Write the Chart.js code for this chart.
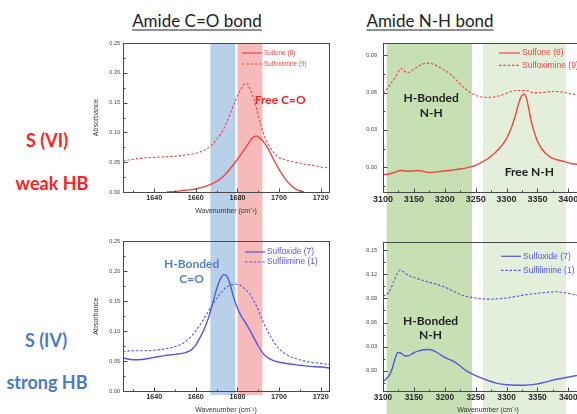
<!DOCTYPE html>
<html>
<head>
<meta charset="utf-8">
<script src="https://cdn.jsdelivr.net/npm/chart.js@4.4.1/dist/chart.umd.min.js"></script>
<style>
html,body{margin:0;padding:0;width:577px;height:414px;overflow:hidden;background:#fff;font-family:Lato,"Open Sans",sans-serif}
canvas{position:absolute}
.title{position:absolute;top:20px;font-size:17px;color:#222;text-decoration:underline;text-decoration-thickness:1px;text-underline-offset:3px;white-space:nowrap;transform:translate(-50%,-50%)}
.side{position:absolute;font-weight:bold;font-size:18px;white-space:nowrap;transform:translate(-50%,-50%)}
</style>
</head>
<body>
<div class="title" style="left:197px">Amide C=O bond</div>
<div class="title" style="left:430px">Amide N-H bond</div>
<div class="side" style="left:47px;top:140px;color:#ff2020">S (VI)</div>
<div class="side" style="left:52px;top:183px;color:#ff2020">weak HB</div>
<div class="side" style="left:46px;top:340px;color:#4a7bc8">S (IV)</div>
<div class="side" style="left:47px;top:382px;color:#4a7bc8">strong HB</div>

<canvas id="tl" width="250" height="200" style="left:85px;top:30px"></canvas>
<canvas id="tr" width="262" height="200" style="left:345px;top:30px"></canvas>
<canvas id="bl" width="250" height="184" style="left:85px;top:230px"></canvas>
<canvas id="br" width="262" height="184" style="left:345px;top:230px"></canvas>

<script>
// tick labels
const coXTicks = [1640, 1660, 1680, 1700, 1720];
const nhXTicks = [3100, 3150, 3200, 3250, 3300, 3350, 3400];
const coYTicks = [0, 0.05, 0.10, 0.15, 0.20, 0.25];
const nhTopYTicks = [0, 0.03, 0.06, 0.09];
const nhBotYTicks = [0, 0.03, 0.06, 0.09, 0.12, 0.15];

// highlighted wavenumber ranges
const hbCO = [1667, 1679];
const freeCO = [1680, 1692];
const hbNH = [3106, 3244];
const freeNH = [3262, 3396];

// C=O region, S(VI)
const sulfoneCOx = [1646,1650,1655,1660,1665,1668,1671,1674,1677,1680,1683,1685,1687,1689,1691,1693,1695,1697,1700,1703,1706,1709,1712];
const sulfoneCOy = [0.000,0.001,0.003,0.005,0.010,0.014,0.020,0.029,0.041,0.055,0.070,0.080,0.090,0.094,0.090,0.082,0.071,0.057,0.038,0.022,0.010,0.003,0.000];
const sulfoximineCOx = [1625,1630,1635,1640,1645,1650,1655,1660,1664,1667,1670,1673,1676,1679,1681,1683,1684.5,1686,1688,1690,1692,1694,1696,1698,1700,1704,1708,1712,1716,1720,1725];
const sulfoximineCOy = [0.052,0.055,0.057,0.058,0.059,0.060,0.062,0.065,0.070,0.077,0.088,0.103,0.127,0.153,0.168,0.180,0.182,0.173,0.155,0.128,0.104,0.085,0.073,0.064,0.058,0.053,0.050,0.047,0.045,0.042,0.040];

// C=O region, S(IV)
const sulfoxideCOx = [1625,1630,1635,1640,1645,1650,1655,1658,1660,1662,1664,1666,1668,1670,1672,1673.5,1675,1676.5,1678,1680,1682,1684,1686,1688,1690,1692,1694,1697,1700,1705,1710,1715,1720,1725];
const sulfoxideCOy = [0.055,0.052,0.053,0.056,0.059,0.061,0.064,0.069,0.077,0.089,0.103,0.121,0.145,0.170,0.188,0.194,0.191,0.178,0.158,0.138,0.124,0.113,0.101,0.088,0.075,0.064,0.057,0.051,0.048,0.045,0.043,0.041,0.040,0.038];
const sulfilimineCOx = [1625,1630,1635,1640,1645,1650,1654,1658,1662,1665,1668,1671,1674,1677,1680,1683,1686,1689,1692,1695,1698,1701,1705,1710,1715,1720,1725];
const sulfilimineCOy = [0.066,0.067,0.067,0.068,0.070,0.074,0.080,0.092,0.110,0.127,0.144,0.159,0.171,0.177,0.178,0.172,0.161,0.143,0.118,0.097,0.079,0.067,0.058,0.052,0.048,0.046,0.044];

// N-H region, S(VI)
const sulfoneNHx = [3100,3110,3120,3128,3135,3142,3150,3158,3166,3174,3185,3195,3210,3225,3240,3250,3260,3270,3280,3290,3300,3308,3314,3320,3324,3328,3332,3336,3340,3345,3350,3358,3366,3375,3390,3405,3420];
const sulfoneNHy = [-0.006,-0.0055,-0.004,-0.0027,-0.003,-0.0033,-0.003,-0.0027,-0.0035,-0.0043,-0.004,-0.0033,-0.0025,-0.0015,0.000,0.0015,0.004,0.007,0.011,0.016,0.023,0.032,0.041,0.052,0.057,0.059,0.056,0.047,0.037,0.028,0.021,0.014,0.010,0.007,0.005,0.003,0.002];
const sulfoximineNHx = [3100,3105,3110,3115,3120,3125,3129,3133,3137,3141,3146,3152,3158,3164,3170,3176,3182,3190,3200,3210,3220,3230,3240,3250,3260,3270,3285,3300,3315,3330,3345,3360,3375,3390,3405,3420];
const sulfoximineNHy = [0.0596,0.062,0.0655,0.069,0.0725,0.077,0.0795,0.0785,0.0765,0.0763,0.0775,0.0795,0.0815,0.083,0.0838,0.0838,0.0828,0.081,0.078,0.0745,0.0695,0.0645,0.0605,0.0578,0.0565,0.0563,0.057,0.0595,0.0618,0.0618,0.0598,0.0602,0.061,0.0605,0.059,0.0585];

// N-H region, S(IV)
const sulfoxideNHx = [3100,3105,3110,3115,3120,3124,3128,3132,3137,3142,3150,3158,3166,3175,3185,3195,3205,3215,3225,3235,3245,3255,3270,3285,3300,3315,3330,3345,3360,3375,3390,3405,3420];
const sulfoxideNHy = [-0.0137,-0.010,-0.006,0.003,0.016,0.0228,0.0225,0.020,0.0185,0.019,0.0225,0.0248,0.0262,0.0265,0.024,0.019,0.015,0.0115,0.006,0.000,-0.004,-0.0075,-0.012,-0.0155,-0.0172,-0.0178,-0.0178,-0.0168,-0.0145,-0.0115,-0.0092,-0.007,-0.005];
const sulfilimineNHx = [3100,3106,3112,3118,3123,3128,3133,3140,3150,3163,3175,3185,3200,3215,3230,3245,3260,3275,3290,3305,3320,3335,3350,3365,3380,3395,3410,3420];
const sulfilimineNHy = [0.0932,0.0945,0.101,0.112,0.1205,0.1252,0.123,0.119,0.116,0.1127,0.110,0.108,0.104,0.0985,0.0935,0.091,0.0895,0.089,0.0898,0.091,0.093,0.0949,0.0963,0.0975,0.0982,0.097,0.0945,0.093];

const RED = "#f04444", BLUE = "#5656e2";
Chart.defaults.font.family = "'Liberation Sans', Arial, sans-serif";

function pts(xs, ys){ return xs.map((x,i) => ({ x, y: ys[i] })); }

function minorOf(ticks, min, max){
  const step = ticks[1] - ticks[0], out = [];
  for(let i = -1; i < ticks.length; i++){
    const v = (i < 0 ? ticks[0] : ticks[i]) + (i < 0 ? -step/2 : step/2);
    if(v > min && v < max) out.push(v);
  }
  return out;
}

function makeChart(id, cfg){
  const decor = {
    id: "decor_" + id,
    beforeDraw(chart){
      const { ctx, chartArea: a, scales: { x } } = chart;
      const top = cfg.bandTop === "canvas" ? 0 : a.top;
      const bottom = cfg.bandBottom == null ? chart.height : a.bottom + cfg.bandBottom;
      ctx.save();
      cfg.bands.forEach(b => {
        const x0 = x.getPixelForValue(b.range[0]), x1 = x.getPixelForValue(b.range[1]);
        ctx.fillStyle = b.color;
        ctx.fillRect(x0, top, x1 - x0, bottom - top);
      });
      ctx.restore();
    },
    afterDraw(chart){
      const { ctx, chartArea: a, scales: { x, y } } = chart;
      ctx.save();
      // frame and inward ticks
      ctx.strokeStyle = "#4a4a4a"; ctx.lineWidth = 1;
      ctx.strokeRect(Math.round(a.left)+0.5, Math.round(a.top)+0.5, Math.round(a.right-a.left), Math.round(a.bottom-a.top));
      ctx.beginPath();
      const bx = Math.round(a.bottom)+0.5, lx = Math.round(a.left)+0.5;
      cfg.xTicks.forEach(v => { const p = Math.round(x.getPixelForValue(v))+0.5; ctx.moveTo(p, bx); ctx.lineTo(p, bx-4); });
      minorOf(cfg.xTicks, cfg.xMin, cfg.xMax).forEach(v => { const p = Math.round(x.getPixelForValue(v))+0.5; ctx.moveTo(p, bx); ctx.lineTo(p, bx-2); });
      cfg.yTicks.forEach(v => { const p = Math.round(y.getPixelForValue(v))+0.5; ctx.moveTo(lx, p); ctx.lineTo(lx+4, p); });
      minorOf(cfg.yTicks, cfg.yMin, cfg.yMax).forEach(v => { const p = Math.round(y.getPixelForValue(v))+0.5; ctx.moveTo(lx, p); ctx.lineTo(lx+2, p); });
      ctx.stroke();

      // legend inside the plot
      const L = cfg.legend;
      chart.data.datasets.forEach((ds, i) => {
        const yy = a.top + L.top + i * L.dy;
        const x0 = L.fromRight ? a.right - L.x : a.left + L.x;
        ctx.strokeStyle = ds.borderColor; ctx.lineWidth = 1.2;
        ctx.setLineDash(ds.borderDash || []);
        ctx.beginPath(); ctx.moveTo(x0, yy); ctx.lineTo(x0 + L.len, yy); ctx.stroke();
        ctx.setLineDash([]);
        ctx.fillStyle = ds.borderColor;
        ctx.font = L.size + "px 'Liberation Sans', Arial, sans-serif";
        ctx.textAlign = "left"; ctx.textBaseline = "middle";
        ctx.fillText(ds.label, x0 + L.len + 2, yy);
      });

      // annotations
      cfg.notes.forEach(n => {
        ctx.fillStyle = n.color;
        ctx.font = "bold 12px Lato, 'Open Sans', sans-serif";
        ctx.textAlign = n.align || "center"; ctx.textBaseline = "middle";
        ctx.fillText(n.text, x.getPixelForValue(n.x), y.getPixelForValue(n.y));
      });
      ctx.restore();
    }
  };

  return new Chart(document.getElementById(id), {
    type: "line",
    data: {
      datasets: cfg.series.map(s => ({
        label: s.label,
        data: pts(s.x, s.y),
        borderColor: s.color,
        borderWidth: s.dash ? 1.1 : 1.4,
        borderDash: s.dash ? [2.5, 1.8] : [],
        pointRadius: 0,
        cubicInterpolationMode: "monotone",
        fill: false
      }))
    },
    options: {
      responsive: false,
      animation: false,
      events: [],
      layout: { padding: cfg.pad },
      plugins: { legend: { display: false }, tooltip: { enabled: false } },
      scales: {
        x: {
          type: "linear", min: cfg.xMin, max: cfg.xMax,
          grid: { display: false, drawTicks: false, tickLength: 0 }, border: { display: false },
          afterFit: s => { s.height = cfg.xh; },
          afterBuildTicks: s => { s.ticks = cfg.xTicks.map(v => ({ value: v })); },
          ticks: { autoSkip: false, maxRotation: 0, padding: 2, color: "#2a2a2a",
                   font: { size: cfg.xFont, weight: "bold" }, callback: v => String(v) },
          title: { display: cfg.xTitle, text: "Wavenumber (cm⁻¹)", color: "#333",
                   font: { size: 7 }, padding: { top: 0, bottom: 0 } }
        },
        y: {
          min: cfg.yMin, max: cfg.yMax,
          grid: { display: false, drawTicks: false, tickLength: 0 }, border: { display: false },
          afterFit: s => { s.width = cfg.yw; },
          afterBuildTicks: s => { s.ticks = cfg.yTicks.map(v => ({ value: v })); },
          ticks: { autoSkip: false, padding: cfg.yPad, color: "#444",
                   font: { size: 5.5 }, callback: v => v.toFixed(2) },
          title: { display: cfg.yTitle, text: "Absorbance", color: "#333",
                   font: { size: 7 }, padding: { top: 0, bottom: 0 } }
        }
      }
    },
    plugins: [decor]
  });
}

makeChart("tl", {
  series: [
    { label: "Sulfone (8)", x: sulfoneCOx, y: sulfoneCOy, color: RED },
    { label: "Sulfoximine (9)", x: sulfoximineCOx, y: sulfoximineCOy, color: RED, dash: true }
  ],
  pad: { top: 13, right: 6, left: 7, bottom: 14.5 }, yw: 31, xh: 23.5,
  xMin: 1625, xMax: 1724, yMin: 0, yMax: 0.25, xTicks: coXTicks, yTicks: coYTicks,
  xFont: 7.2, yPad: 3, xTitle: true, yTitle: true,
  bands: [{ range: hbCO, color: "#b9d0e9" }, { range: freeCO, color: "#f7baba" }],
  bandTop: "area", bandBottom: null,
  legend: { fromRight: true, x: 87, top: 10, dy: 11, len: 20, size: 6.4 },
  notes: [{ text: "Free C=O", x: 1688.3, y: 0.154, color: "#ff2020", align: "left" }]
});

makeChart("bl", {
  series: [
    { label: "Sulfoxide (7)", x: sulfoxideCOx, y: sulfoxideCOy, color: BLUE },
    { label: "Sulfilimine (1)", x: sulfilimineCOx, y: sulfilimineCOy, color: BLUE, dash: true }
  ],
  pad: { top: 11, right: 6, left: 7, bottom: 0 }, yw: 31, xh: 23,
  xMin: 1625, xMax: 1724, yMin: 0, yMax: 0.25, xTicks: coXTicks, yTicks: coYTicks,
  xFont: 7.2, yPad: 3, xTitle: true, yTitle: true,
  bands: [{ range: hbCO, color: "#b9d0e9" }, { range: freeCO, color: "#f7baba" }],
  bandTop: "canvas", bandBottom: 4,
  legend: { fromRight: true, x: 84, top: 11, dy: 10, len: 20, size: 8.4 },
  notes: [
    { text: "H-Bonded", x: 1658, y: 0.2116, color: "#4f81c7" },
    { text: "C=O", x: 1658, y: 0.1866, color: "#4f81c7" }
  ]
});

makeChart("tr", {
  series: [
    { label: "Sulfone (8)", x: sulfoneNHx, y: sulfoneNHy, color: RED },
    { label: "Sulfoximine (9)", x: sulfoximineNHx, y: sulfoximineNHy, color: RED, dash: true }
  ],
  pad: { top: 13, right: 14, left: 0, bottom: 0 }, yw: 38, xh: 38,
  xMin: 3100, xMax: 3440, yMin: -0.02, yMax: 0.1, xTicks: nhXTicks, yTicks: nhTopYTicks,
  xFont: 9, yPad: 6, xTitle: false, yTitle: false,
  bands: [{ range: hbNH, color: "#c6e0b4" }, { range: freeNH, color: "#e3efda" }],
  bandTop: "area", bandBottom: null,
  legend: { fromRight: false, x: 116, top: 10, dy: 12.4, len: 21, size: 8.5 },
  notes: [
    { text: "H-Bonded", x: 3178, y: 0.0558, color: "#222" },
    { text: "N-H", x: 3178, y: 0.0437, color: "#222" },
    { text: "Free N-H", x: 3337, y: -0.0043, color: "#222" }
  ]
});

makeChart("br", {
  series: [
    { label: "Sulfoxide (7)", x: sulfoxideNHx, y: sulfoxideNHy, color: BLUE },
    { label: "Sulfilimine (1)", x: sulfilimineNHx, y: sulfilimineNHy, color: BLUE, dash: true }
  ],
  pad: { top: 12, right: 14, left: 0, bottom: 0 }, yw: 38, xh: 23,
  xMin: 3100, xMax: 3440, yMin: -0.025, yMax: 0.16, xTicks: nhXTicks, yTicks: nhBotYTicks,
  xFont: 8.3, yPad: 6, xTitle: true, yTitle: false,
  bands: [{ range: hbNH, color: "#c6e0b4" }, { range: freeNH, color: "#e3efda" }],
  bandTop: "canvas", bandBottom: null,
  legend: { fromRight: false, x: 118, top: 14.3, dy: 14, len: 20, size: 8.5 },
  notes: [
    { text: "H-Bonded", x: 3177, y: 0.0619, color: "#222" },
    { text: "N-H", x: 3177, y: 0.0442, color: "#222" }
  ]
});
</script>
</body>
</html>
